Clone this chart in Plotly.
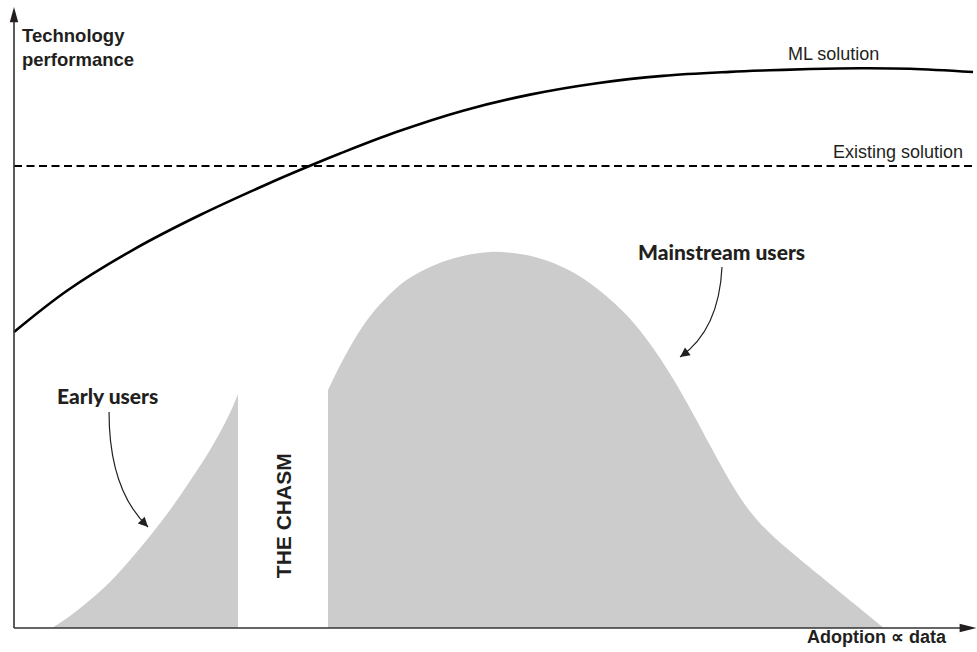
import plotly.graph_objects as go

# Adoption (x, % of market) vs. density of users (y) for the two user groups
adoption_early = [3.96, 5.83, 7.92, 10.00, 12.08, 14.17, 16.25, 18.33, 20.42, 22.50, 23.33]
users_early = [0.0, 1.94, 4.52, 7.42, 10.97, 14.84, 19.03, 23.71, 28.71, 34.68, 37.74]

adoption_main = [32.71, 34.48, 36.56, 38.65, 40.73, 42.81, 44.90, 46.98, 49.58, 51.67,
                 53.75, 55.83, 57.92, 60.00, 62.08, 64.17, 66.25, 68.33, 70.42, 72.50,
                 73.54, 74.58, 75.63, 76.67, 77.71, 78.75, 79.79, 80.83, 81.88, 83.96,
                 86.04, 88.13, 90.21, 90.63]
users_main = [38.39, 43.87, 49.19, 53.06, 55.97, 57.82, 59.19, 60.08, 60.65, 60.52,
              60.03, 59.06, 57.61, 55.61, 53.03, 49.87, 45.84, 41.00, 35.45, 29.48,
              26.53, 23.68, 21.06, 18.81, 16.90, 15.27, 13.79, 12.40, 11.06, 8.42,
              5.77, 3.13, 0.48, 0.0]

# Technology performance of the ML solution as adoption (and data) grows
ml_adoption = [0, 5.52, 12.40, 19.38, 26.35, 30.52, 33.96, 39.90, 46.77, 53.75,
               60.73, 67.60, 74.58, 78.75, 82.92, 88.13, 93.33, 99.90]
ml_performance = [47.74, 54.40, 61.00, 66.61, 71.58, 74.35, 76.53, 80.03, 83.44, 86.03,
                  87.87, 89.05, 89.69, 89.95, 90.16, 90.29, 90.21, 89.68]

# Performance of the existing solution (flat)
existing_adoption = [0, 99.9]
existing_performance = [74.5, 74.5]

GRAY = "#cccccc"
INK = "#231f20"
AXIS = "#333333"
SANS = "Liberation Sans, Arial, sans-serif"
HUMANIST = "Lato, Liberation Sans, sans-serif"

fig = go.Figure()

fig.add_trace(go.Scatter(x=adoption_early, y=users_early, mode="lines",
                         line=dict(width=0, shape="spline", smoothing=1.0),
                         fill="tozeroy", fillcolor=GRAY, hoverinfo="skip"))
fig.add_trace(go.Scatter(x=adoption_main, y=users_main, mode="lines",
                         line=dict(width=0, shape="spline", smoothing=1.0),
                         fill="tozeroy", fillcolor=GRAY, hoverinfo="skip"))
fig.add_trace(go.Scatter(x=existing_adoption, y=existing_performance, mode="lines",
                         line=dict(color="black", width=2, dash="8px,4.5px"),
                         hoverinfo="skip"))
fig.add_trace(go.Scatter(x=ml_adoption, y=ml_performance, mode="lines",
                         line=dict(color="black", width=2.6, shape="spline", smoothing=1.0),
                         hoverinfo="skip"))

shapes = [
    # axes
    dict(type="line", x0=0, y0=0, x1=99.0, y1=0, line=dict(color=AXIS, width=1.6)),
    dict(type="line", x0=0, y0=0, x1=0, y1=98.5, line=dict(color=AXIS, width=1.6)),
    # axis arrowheads
    dict(type="path", path="M 100.26,0 L 98.5,0.68 L 98.5,-0.68 Z",
         fillcolor=INK, line=dict(width=0)),
    dict(type="path", path="M 0,100.16 L -0.44,97.7 L 0.44,97.7 Z",
         fillcolor=INK, line=dict(width=0)),
    # curved pointers
    dict(type="path", path="M 9.9,34.84 Q 9.9,22.26 13.96,16.29",
         line=dict(color=INK, width=1.2)),
    dict(type="path", path="M 73.75,58.23 Q 73.44,48.06 69.38,43.71",
         line=dict(color=INK, width=1.2)),
]

annotations = [
    dict(x=0.6, y=97.6, xanchor="left", yanchor="top", align="left",
         text="<b>Technology<br>performance</b>", showarrow=False,
         font=dict(family=SANS, size=18.5, color=INK)),
    dict(x=80.4, y=92.6, xanchor="left", yanchor="middle", text="ML solution",
         showarrow=False, font=dict(family=SANS, size=18, color=INK)),
    dict(x=85.1, y=76.8, xanchor="left", yanchor="middle", text="Existing solution",
         showarrow=False, font=dict(family=SANS, size=18, color=INK)),
    dict(x=97.4, y=-1.5, xanchor="right", yanchor="middle", text="<b>Adoption ∝ data</b>",
         showarrow=False, font=dict(family=SANS, size=18, color=INK)),
    dict(x=28.02, y=18.2, xanchor="center", yanchor="middle", text="<b>THE CHASM</b>",
         textangle=-90, showarrow=False, font=dict(family=SANS, size=21, color=INK)),
    dict(x=9.79, y=37.5, xanchor="center", yanchor="middle", text="Early users",
         showarrow=False, font=dict(family=HUMANIST, size=21, color=INK, weight=900)),
    dict(x=73.65, y=60.65, xanchor="center", yanchor="middle", text="Mainstream users",
         showarrow=False, font=dict(family=HUMANIST, size=21, color=INK, weight=900)),
    # arrowheads at the ends of the curved pointers
    dict(x=13.96, y=16.29, ax=-8, ay=-8, text="", showarrow=True, arrowhead=2,
         arrowsize=1.6, arrowwidth=1.2, arrowcolor=INK, standoff=0),
    dict(x=69.38, y=43.71, ax=9, ay=-6.5, text="", showarrow=True, arrowhead=2,
         arrowsize=1.6, arrowwidth=1.2, arrowcolor=INK, standoff=0),
]

fig.update_layout(
    width=977, height=652,
    margin=dict(l=0, r=0, t=0, b=0),
    paper_bgcolor="white", plot_bgcolor="white",
    showlegend=False,
    xaxis=dict(range=[-1.4583, 100.3125], visible=False, fixedrange=True),
    yaxis=dict(range=[-3.871, 101.29], visible=False, fixedrange=True),
    shapes=shapes,
    annotations=annotations,
)

fig.write_html("out.html")
